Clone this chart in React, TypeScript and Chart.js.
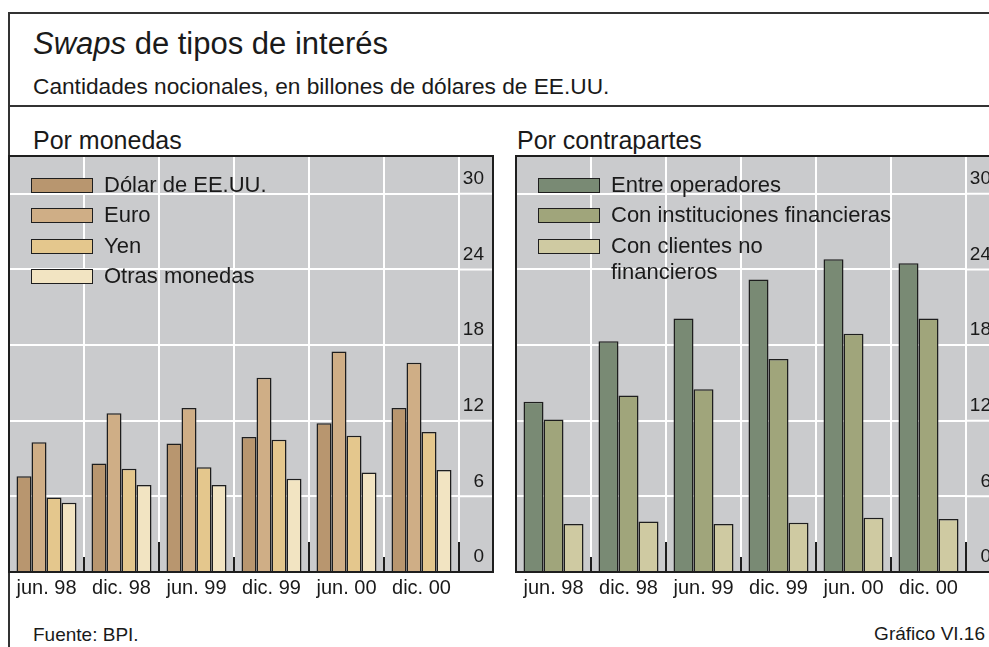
import React, { useEffect, useRef } from "react";
import { Chart, registerables } from "chart.js";

Chart.register(...registerables);

// ---------- data ----------
const categories = ["jun. 98", "dic. 98", "jun. 99", "dic. 99", "jun. 00", "dic. 00"];

const monedasLabels = ["Dólar de EE.UU.", "Euro", "Yen", "Otras monedas"];
const dolar = [7.6, 8.6, 10.2, 10.7, 11.8, 13.0];
const euro = [10.3, 12.6, 13.0, 15.4, 17.5, 16.6];
const yen = [5.9, 8.2, 8.3, 10.5, 10.8, 11.1];
const otras = [5.5, 6.9, 6.9, 7.4, 7.9, 8.1];

const contrapartesLabels = ["Entre operadores", "Con instituciones financieras", "Con clientes no\nfinancieros"];
const entreOperadores = [13.5, 18.3, 20.1, 23.2, 24.8, 24.5];
const conInstituciones = [12.1, 14.0, 14.5, 16.9, 18.9, 20.1];
const conClientes = [3.8, 4.0, 3.8, 3.9, 4.3, 4.2];

const yTicks = [0, 6, 12, 18, 24, 30];
const yMax = 33;

// ---------- styles ----------
const FONT = '"Liberation Sans", Arial, Helvetica, sans-serif';
const TEXT = "#1a1a1a";
const BG = "#cacbcd";
const EDGE = "#1e1e1e";
const monedasColors = ["#b8966f", "#cfae86", "#e4c78d", "#f2e4c2"];
const contrapartesColors = ["#798a74", "#a0a57b", "#cfcaa2"];
const AXIS_W = 25; // label column width (labels right-aligned to it)
const EXTRA = 9; // panel continues past the labels

const panelPlugin = {
  id: "panelDecor",
  beforeDraw(chart: any) {
    const { ctx, chartArea: a, scales } = chart;
    const edge = scales.y.right + EXTRA;
    ctx.save();
    ctx.fillStyle = BG;
    ctx.fillRect(a.left, a.top, edge - a.left, a.bottom - a.top);
    ctx.restore();
  },
  beforeDatasetsDraw(chart: any) {
    const { ctx, chartArea: a, scales } = chart;
    const y = scales.y;
    const edge = y.right + EXTRA;
    ctx.save();
    ctx.strokeStyle = "#ffffff";
    ctx.lineWidth = 2;
    for (const v of yTicks) {
      const py = y.getPixelForValue(v);
      ctx.beginPath();
      ctx.moveTo(a.right, py);
      ctx.lineTo(edge, py);
      ctx.stroke();
    }
    ctx.restore();
  },
  afterDatasetsDraw(chart: any) {
    const { ctx, chartArea: a, scales } = chart;
    const edge = scales.y.right + EXTRA;
    const labels: string[] = chart.data.labels;
    const w = (a.right - a.left) / labels.length;
    ctx.save();
    ctx.strokeStyle = EDGE;
    ctx.lineWidth = 2;
    labels.forEach((lab, i) => {
      const px = Math.round(a.left + w * (i + 1));
      const len = String(lab).startsWith("dic") ? 30 : 15;
      ctx.beginPath();
      ctx.moveTo(px, a.bottom);
      ctx.lineTo(px, a.bottom - len);
      ctx.stroke();
    });
    ctx.strokeRect(a.left, a.top, edge - a.left, a.bottom - a.top);
    ctx.restore();
  },
};

type DS = { label: string; data: number[]; color: string };

function BarPanel({ datasets, left }: { datasets: DS[]; left: number }) {
  const ref = useRef<HTMLCanvasElement>(null);
  useEffect(() => {
    const chart = new Chart(ref.current as HTMLCanvasElement, {
      type: "bar",
      data: {
        labels: categories,
        datasets: datasets.map((d) => ({
          label: d.label,
          data: d.data,
          backgroundColor: d.color,
          borderColor: EDGE,
          borderWidth: 1.5,
          categoryPercentage: 0.8,
          barPercentage: 1,
        })),
      },
      options: {
        responsive: false,
        animation: false,
        layout: { padding: { left: 1, top: 1, right: 1 + EXTRA, bottom: 0 } },
        plugins: { legend: { display: false }, tooltip: { enabled: false } },
        scales: {
          x: {
            grid: { color: "#ffffff", lineWidth: 2, drawTicks: false, offset: true },
            border: { display: false },
            ticks: {
              font: { family: FONT, size: 20 },
              color: TEXT,
              padding: 4,
              maxRotation: 0,
              autoSkip: false,
            },
            afterFit: (s: any) => {
              s.height = 30;
              s.paddingLeft = 0;
              s.paddingRight = 0;
            },
          },
          y: {
            position: "right",
            min: 0,
            max: yMax,
            afterBuildTicks: (s: any) => {
              s.ticks = yTicks.map((v) => ({ value: v }));
            },
            afterFit: (s: any) => {
              s.width = AXIS_W;
              s.paddingTop = 0;
              s.paddingBottom = 0;
            },
            grid: { color: "#ffffff", lineWidth: 2, drawTicks: false },
            border: { display: false },
            ticks: {
              font: { family: FONT, size: 19 },
              color: TEXT,
              padding: 0,
              crossAlign: "far",
              labelOffset: -15,
            },
          },
        },
      } as any,
      plugins: [panelPlugin as any],
    });
    return () => chart.destroy();
  }, []);
  return (
    <canvas
      ref={ref}
      width={486}
      height={447}
      style={{ position: "absolute", left, top: 155, width: 486, height: 447 }}
    />
  );
}

function Legend({ items, left }: { items: DS[]; left: number }) {
  return (
    <>
      {items.map((it, i) => (
        <div key={i} style={{ position: "absolute", left, top: 178 + i * 30.3, width: 400, height: 15 }}>
          <div
            style={{
              position: "absolute",
              left: 0,
              top: 0,
              width: 62,
              height: 15,
              boxSizing: "border-box",
              border: `1.5px solid ${EDGE}`,
              background: it.color,
            }}
          />
          <div
            style={{
              position: "absolute",
              left: 73,
              top: -5.9,
              fontSize: 22,
              lineHeight: "26.5px",
              whiteSpace: "pre-line",
              color: TEXT,
            }}
          >
            {it.label}
          </div>
        </div>
      ))}
    </>
  );
}

export default function App() {
  const monedas: DS[] = [
    { label: monedasLabels[0], data: dolar, color: monedasColors[0] },
    { label: monedasLabels[1], data: euro, color: monedasColors[1] },
    { label: monedasLabels[2], data: yen, color: monedasColors[2] },
    { label: monedasLabels[3], data: otras, color: monedasColors[3] },
  ];
  const contrapartes: DS[] = [
    { label: contrapartesLabels[0], data: entreOperadores, color: contrapartesColors[0] },
    { label: contrapartesLabels[1], data: conInstituciones, color: contrapartesColors[1] },
    { label: contrapartesLabels[2], data: conClientes, color: contrapartesColors[2] },
  ];
  return (
    <div
      style={{
        position: "fixed",
        left: 0,
        top: 0,
        width: 989,
        height: 647,
        overflow: "hidden",
        background: "#ffffff",
        fontFamily: FONT,
        color: TEXT,
      }}
    >
      <div
        style={{
          position: "absolute",
          left: 8,
          top: 12,
          width: 2000,
          height: 2000,
          borderLeft: "2px solid #333",
          borderTop: "2px solid #333",
        }}
      />
      <div style={{ position: "absolute", left: 8, top: 105, width: 2000, height: 2, background: "#333" }} />
      <div style={{ position: "absolute", left: 33, top: 28, fontSize: 31, lineHeight: "31px", whiteSpace: "nowrap" }}>
        <i>Swaps</i> de tipos de interés
      </div>
      <div style={{ position: "absolute", left: 33, top: 75, fontSize: 22.7, lineHeight: "22.7px", whiteSpace: "nowrap" }}>
        Cantidades nocionales, en billones de dólares de EE.UU.
      </div>
      <div style={{ position: "absolute", left: 33, top: 128, fontSize: 25, lineHeight: "25px", whiteSpace: "nowrap" }}>
        Por monedas
      </div>
      <div style={{ position: "absolute", left: 517, top: 128, fontSize: 25, lineHeight: "25px", whiteSpace: "nowrap" }}>
        Por contrapartes
      </div>

      <BarPanel datasets={monedas} left={8} />
      <BarPanel datasets={contrapartes} left={515} />

      <Legend items={monedas} left={31} />
      <Legend items={contrapartes} left={538} />

      <div style={{ position: "absolute", left: 33, top: 625, fontSize: 19, lineHeight: "19px", whiteSpace: "nowrap" }}>
        Fuente: BPI.
      </div>
      <div style={{ position: "absolute", right: 4, top: 624, fontSize: 19, lineHeight: "19px", whiteSpace: "nowrap" }}>
        Gráfico VI.16
      </div>
    </div>
  );
}
